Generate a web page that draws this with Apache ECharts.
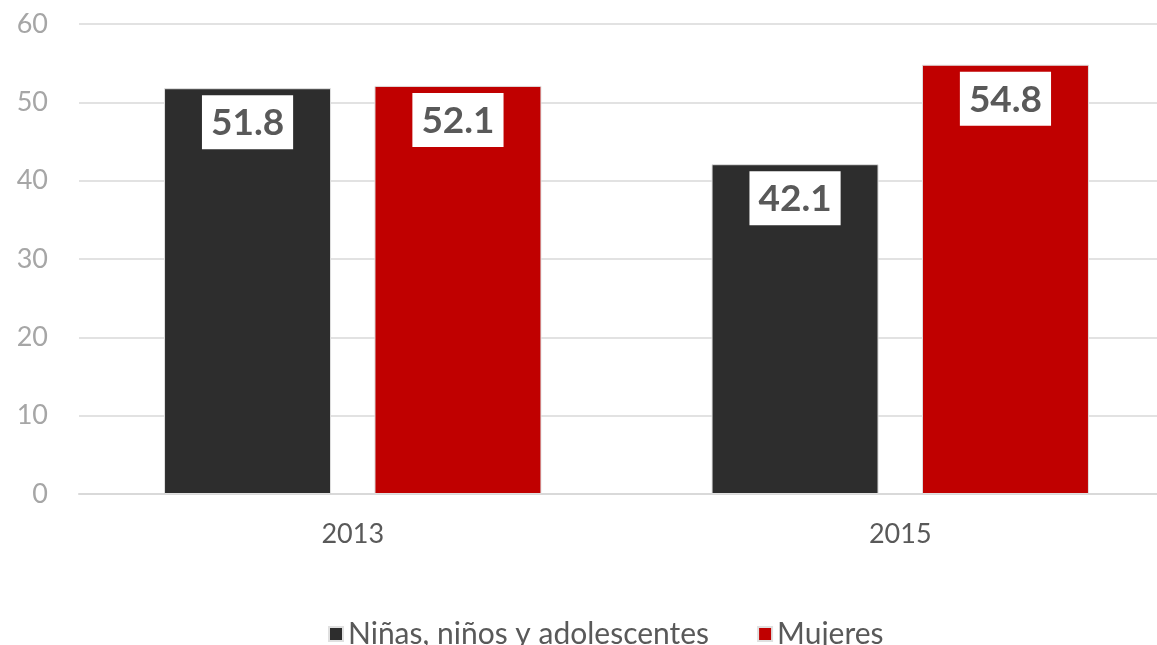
<!DOCTYPE html>
<html>
<head>
<meta charset="utf-8">
<script src="https://cdn.jsdelivr.net/npm/echarts@6/dist/echarts.min.js"></script>
<style>
  html, body { margin: 0; padding: 0; background: #fff; overflow: hidden; }
  #main { width: 1180px; height: 645px; }
</style>
</head>
<body>
<div id="main"></div>
<script>
var years = ['2013', '2015']
var ninos = [51.8, 42.1]
var mujeres = [52.1, 54.8]
var yTicks = [0, 10, 20, 30, 40, 50, 60]

var chart = echarts.init(document.getElementById('main'))

var labelStyle = {
  show: true,
  position: 'insideTop',
  distance: 7,
  fontFamily: 'Lato',
  fontWeight: 'bold',
  fontSize: 37,
  color: '#595959',
  backgroundColor: '#ffffff',
  padding: [8, 9, 6, 9],
  lineHeight: 40,
  formatter: function (p) { return p.value.toFixed(1) }
}

chart.setOption({
  animation: false,
  textStyle: { fontFamily: 'Lato' },
  // plot area runs past the right edge of the window, as in the source picture
  grid: { left: 79, top: 24, right: 6, bottom: 151 },
  legend: {
    left: 323,
    top: 614,
    itemWidth: 14,
    itemHeight: 14,
    itemGap: 48,
    icon: 'rect',
    textStyle: { fontSize: 30, color: '#595959', fontFamily: 'Lato' },
    data: ['Niñas, niños y adolescentes', 'Mujeres']
  },
  xAxis: {
    type: 'category',
    data: years,
    axisTick: { show: false },
    axisLine: { lineStyle: { color: '#d9d9d9', width: 2 } },
    axisLabel: { fontSize: 27, color: '#595959', margin: 27, fontFamily: 'Lato' }
  },
  yAxis: {
    type: 'value',
    min: yTicks[0],
    max: yTicks[yTicks.length - 1],
    interval: 10,
    axisLine: { show: false },
    axisTick: { show: false },
    splitLine: { lineStyle: { color: '#d9d9d9', width: 1.5 } },
    axisLabel: { fontSize: 27, color: '#a6a6a6', margin: 31, fontFamily: 'Lato' }
  },
  series: [
    {
      name: 'Niñas, niños y adolescentes',
      type: 'bar',
      data: ninos,
      barWidth: 167,
      barGap: '26%',
      itemStyle: { color: '#2d2d2d', borderColor: '#e0e0e0', borderWidth: 1 },
      label: labelStyle
    },
    {
      name: 'Mujeres',
      type: 'bar',
      data: mujeres,
      barWidth: 167,
      itemStyle: { color: '#c00000', borderColor: '#e0e0e0', borderWidth: 1 },
      label: labelStyle
    }
  ]
})
</script>
</body>
</html>
